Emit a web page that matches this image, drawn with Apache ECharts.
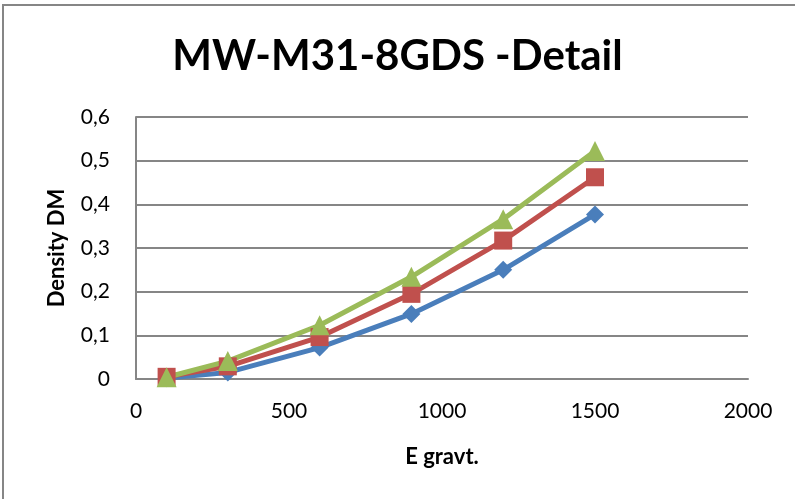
<!DOCTYPE html>
<html>
<head>
<meta charset="utf-8">
<script src="https://cdn.jsdelivr.net/npm/echarts@6/dist/echarts.min.js"></script>
<style>
html,body{margin:0;padding:0;background:#fff;}
#chart{width:795px;height:499px;}
</style>
</head>
<body>
<div id="chart"></div>
<script>
const xValues = [100, 300, 600, 900, 1200, 1500];
const seriesBlue = [0.002, 0.015, 0.072, 0.149, 0.250, 0.377];
const seriesRed = [0.005, 0.029, 0.096, 0.195, 0.317, 0.462];
const seriesGreen = [0.004, 0.041, 0.123, 0.234, 0.366, 0.522];
const titleText = 'MW-M31-8GDS -Detail';
const xTitle = 'E gravt.';
const yTitle = 'Density DM';

const FONT = 'Lato, "Open Sans", sans-serif';
const chart = echarts.init(document.getElementById('chart'), null, {renderer: 'canvas'});
function pairs(ys) { return xValues.map((x, i) => [x, ys[i]]); }
const mk = (name, data, color, symbol, size) => ({
  name, type: 'line', data: pairs(data), symbol, symbolSize: size,
  lineStyle: {color, width: 5}, itemStyle: {color},
  z: 3
});
chart.setOption({
  animation: false,
  graphic: [{
    type: 'rect', shape: {x: 3, y: 5, width: 820, height: 520},
    style: {fill: 'none', stroke: '#868686', lineWidth: 2}, z: 0
  }],
  title: {
    text: titleText, left: 'center', top: 30,
    textStyle: {fontFamily: FONT, fontWeight: 'bold', fontSize: 42, color: '#000'}
  },
  grid: {left: 136, right: 47, top: 117, bottom: 120},
  xAxis: {
    type: 'value', min: 0, max: 2000, interval: 500,
    name: xTitle, nameLocation: 'middle', nameGap: 67,
    nameTextStyle: {fontFamily: FONT, fontWeight: 'bold', fontSize: 22, color: '#000'},
    axisLine: {show: true, lineStyle: {color: '#868686', width: 2}},
    axisTick: {show: false},
    splitLine: {show: false},
    axisLabel: {fontFamily: FONT, fontSize: 21, color: '#000', margin: 22, formatter: v => String(v)}
  },
  yAxis: {
    type: 'value', min: 0, max: 0.6, interval: 0.1,
    name: yTitle, nameLocation: 'middle', nameGap: 68,
    nameTextStyle: {fontFamily: FONT, fontWeight: 'bold', fontSize: 22, color: '#000'},
    axisLine: {show: true, lineStyle: {color: '#868686', width: 2}},
    axisTick: {show: false},
    splitLine: {show: true, lineStyle: {color: '#868686', width: 2}},
    axisLabel: {
      fontFamily: FONT, fontSize: 21, color: '#000', margin: 26,
      formatter: v => (Math.round(v * 10) / 10).toString().replace('.', ',')
    }
  },
  series: [
    mk('Blue', seriesBlue, '#4A7EBB', 'diamond', 18),
    mk('Red', seriesRed, '#C0504D', 'rect', 18),
    mk('Green', seriesGreen, '#9BBB59', 'triangle', 20)
  ]
});
</script>
</body>
</html>
